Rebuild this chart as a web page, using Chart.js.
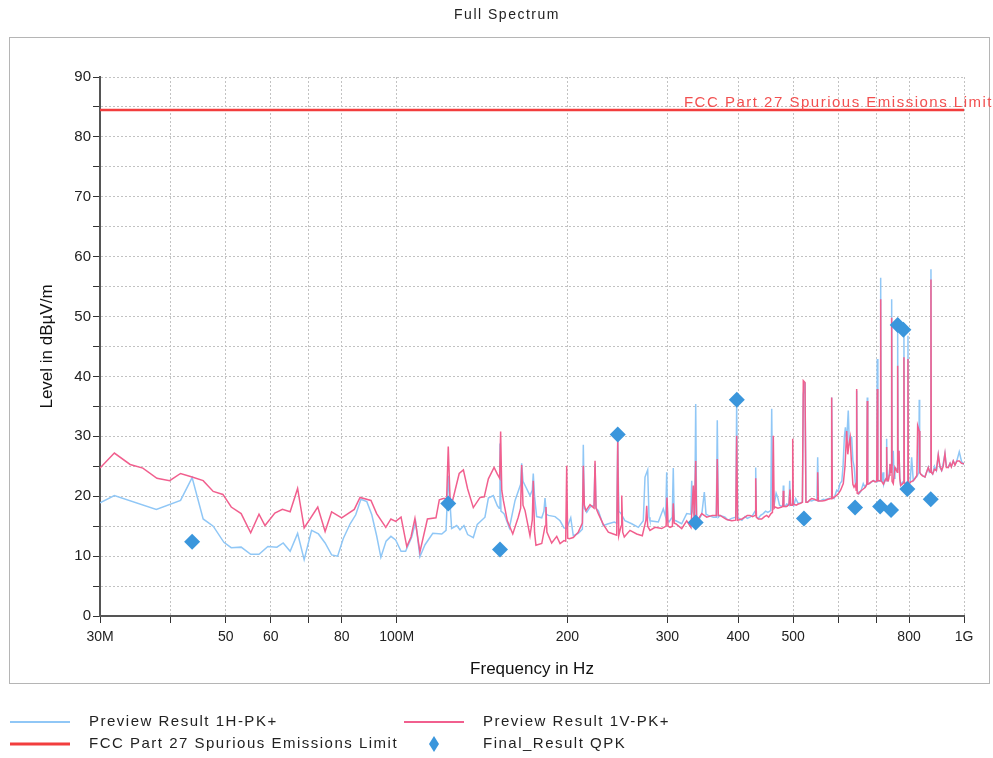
<!DOCTYPE html>
<html>
<head>
<meta charset="utf-8">
<title>Full Spectrum</title>
<script src="https://cdn.jsdelivr.net/npm/chart.js@4.4.0/dist/chart.umd.min.js"></script>
<style>
  html, body { margin: 0; padding: 0; background: #fff; }
  #wrap { position: relative; width: 993px; height: 758px; }
</style>
</head>
<body>
<div id="wrap"><canvas id="chart" width="993" height="758"></canvas></div>
<script>
/* ================= DATA (frequency in MHz, level in dBuV/m) ================= */
const freqTicks = [30, 40, 50, 60, 70, 80, 100, 200, 300, 400, 500, 600, 700, 800, 1000];
const freqLabels = ["30M", "", "50", "60", "", "80", "100M", "200", "300", "400", "500", "", "", "800", "1G"];

const h1Freq = [
  30.0, 31.8, 37.7, 41.6, 43.6, 45.6, 47.5, 49.6, 51.1, 53.2,
  55.3, 57.2, 59.3, 61.5, 63.1, 64.9, 66.9, 68.7, 70.8, 72.8,
  74.8, 76.8, 78.7, 80.5, 82.8, 84.7, 86.5, 88.6, 90.4, 92.2,
  93.8, 95.8, 97.7, 99.6, 101.8, 103.7, 106.3, 108.0, 109.9, 112.2,
  115.8, 120.1, 122.2, 123.3, 125.0, 127.6, 129.3, 131.4, 133.4, 136.5,
  138.7, 143.1, 145.1, 148.0, 150.5, 151.6, 152.1, 152.7, 154.6, 158.0,
  161.7, 165.4, 166.1, 167.0, 169.0, 171.8, 173.4, 174.1, 175.0, 176.5,
  180.2, 181.8, 182.6, 183.6, 185.1, 190.2, 194.1, 197.2, 199.4, 202.7,
  204.8, 209.0, 212.5, 213.3, 214.2, 216.3, 219.2, 222.8, 223.7, 224.6,
  226.7, 231.3, 236.1, 241.9, 244.3, 245.3, 246.3, 248.6, 252.6, 259.6,
  266.7, 272.1, 274.0, 277.0, 278.5, 279.6, 289.2, 295.1, 298.0, 299.2,
  300.4, 302.0, 306.0, 307.3, 308.5, 310.4, 318.0, 324.5, 330.0, 331.2,
  332.4, 335.3, 336.6, 337.9, 340.2, 345.0, 348.6, 351.0, 354.3, 361.5,
  366.0, 367.4, 368.9, 371.5, 379.1, 384.0, 389.5, 396.0, 397.5, 399.0,
  401.3, 406.0, 411.1, 415.0, 419.6, 424.0, 428.2, 429.4, 430.6, 433.9,
  438.0, 442.8, 447.0, 451.0, 456.4, 458.2, 460.0, 463.1, 466.5, 469.5,
  473.0, 477.0, 479.5, 480.3, 481.3, 484.0, 487.0, 491.5, 492.9, 494.3,
  498.2, 501.0, 505.1, 510.0, 515.0, 519.0, 520.9, 524.5, 526.5, 530.0,
  535.0, 539.0, 545.0, 550.5, 552.2, 554.0, 560.0, 565.0, 568.8, 576.0,
  583.0, 584.5, 586.0, 590.0, 596.5, 600.0, 604.5, 609.0, 612.0, 615.5,
  618.0, 621.0, 625.2, 628.0, 631.0, 633.9, 637.0, 640.6, 643.5, 645.5,
  646.9, 648.3, 652.9, 658.0, 664.4, 669.0, 674.0, 675.3, 676.6, 680.8,
  686.0, 692.0, 697.0, 701.5, 703.3, 705.0, 708.2, 711.8, 713.1, 714.4,
  716.8, 720.0, 722.0, 725.6, 729.5, 730.6, 731.8, 735.4, 740.5, 744.5,
  745.6, 746.8, 750.5, 753.0, 755.6, 762.8, 764.0, 765.2, 768.0, 770.5,
  773.3, 778.0, 782.5, 783.7, 785.0, 789.2, 795.4, 796.6, 797.8, 800.8,
  804.0, 808.6, 813.9, 820.0, 826.0, 832.5, 833.9, 835.3, 838.7, 845.0,
  853.5, 859.0, 865.0, 869.0, 873.3, 874.5, 875.7, 880.6, 887.0, 894.0,
  900.8, 907.0, 913.3, 919.0, 925.6, 931.0, 938.1, 945.0, 950.0, 957.3,
  964.0, 972.0, 981.0, 990.0, 997.0, 1000
];
const h1Level = [
  18.9, 20.1, 17.8, 19.3, 23.1, 16.2, 15.0, 12.3, 11.4, 11.5,
  10.3, 10.3, 11.6, 11.5, 12.2, 10.8, 13.8, 9.4, 14.3, 13.7,
  12.2, 10.2, 10.0, 12.9, 15.4, 16.9, 19.5, 19.1, 16.9, 13.4,
  9.8, 12.5, 13.3, 12.7, 10.8, 10.8, 13.2, 15.7, 9.9, 11.9,
  13.8, 13.7, 14.3, 23.4, 14.6, 15.1, 14.4, 15.1, 13.6, 13.1,
  15.3, 16.5, 19.7, 20.1, 18.4, 18.0, 28.8, 17.5, 17.1, 14.7,
  19.3, 22.0, 25.5, 22.5, 21.5, 20.1, 21.0, 23.8, 20.0, 16.6,
  16.4, 17.5, 19.7, 17.0, 16.8, 16.6, 15.9, 14.7, 14.6, 16.4,
  13.4, 13.8, 14.5, 28.6, 18.0, 17.3, 18.2, 18.5, 25.4, 18.0,
  17.6, 15.1, 15.4, 15.7, 15.5, 30.0, 17.5, 17.1, 15.9, 15.4,
  14.8, 15.9, 23.2, 24.4, 16.5, 15.9, 15.7, 17.9, 16.5, 24.0,
  16.0, 15.7, 16.5, 24.7, 16.0, 15.9, 15.4, 17.1, 17.0, 22.6,
  17.5, 16.5, 35.4, 16.0, 15.9, 17.0, 20.7, 17.0, 16.8, 16.5,
  16.5, 32.7, 16.5, 16.8, 16.5, 16.0, 16.3, 16.5, 35.9, 16.5,
  16.3, 16.0, 16.6, 16.3, 16.5, 16.8, 17.5, 24.8, 16.5, 16.3,
  16.8, 17.1, 17.5, 17.3, 17.6, 34.6, 18.0, 18.7, 20.5, 19.8,
  18.5, 18.3, 18.5, 21.8, 18.5, 18.3, 18.7, 18.5, 22.6, 18.5,
  18.7, 18.4, 19.6, 18.8, 18.9, 19.0, 37.0, 39.0, 19.2, 19.0,
  19.3, 19.2, 19.4, 19.3, 26.5, 19.2, 19.3, 19.5, 19.4, 19.6,
  19.7, 36.5, 19.8, 19.6, 21.0, 20.8, 22.1, 22.5, 25.0, 30.0,
  31.5, 29.0, 34.3, 28.5, 30.0, 29.8, 26.0, 24.8, 22.0, 21.5,
  37.6, 21.0, 20.4, 20.8, 22.1, 21.5, 22.0, 36.5, 22.0, 22.1,
  22.3, 22.6, 22.5, 22.4, 42.9, 22.5, 22.6, 22.5, 56.5, 22.5,
  22.6, 24.0, 22.0, 22.6, 23.0, 29.6, 22.6, 22.6, 25.0, 24.5,
  52.9, 25.0, 27.6, 23.0, 24.8, 24.5, 47.6, 25.0, 27.6, 23.0,
  21.8, 22.3, 22.5, 46.8, 22.3, 22.1, 22.5, 46.8, 22.3, 22.1,
  22.5, 26.5, 22.6, 23.0, 23.3, 24.0, 36.1, 24.0, 23.7, 23.5,
  23.2, 24.0, 24.8, 24.0, 24.2, 57.9, 24.0, 23.7, 25.0, 24.3,
  26.9, 24.8, 24.3, 25.5, 27.1, 25.0, 24.8, 25.5, 25.0, 25.9,
  25.3, 26.0, 27.4, 25.8, 25.4, 25.6
];

const v1Freq = [
  30.0, 31.8, 33.9, 35.7, 37.8, 39.8, 41.6, 43.6, 45.6, 47.5,
  49.4, 51.1, 53.2, 55.3, 57.2, 58.6, 61.0, 62.9, 64.9, 66.9,
  68.7, 72.6, 74.8, 76.8, 80.0, 84.2, 86.2, 90.1, 92.2, 95.7,
  97.7, 99.6, 101.8, 104.2, 106.0, 107.7, 109.9, 113.3, 117.3, 118.9,
  120.8, 122.5, 123.3, 124.2, 125.5, 128.9, 131.1, 133.4, 136.5, 140.3,
  142.7, 145.1, 148.5, 150.5, 151.9, 152.5, 153.2, 154.2, 156.7, 160.2,
  163.8, 165.4, 166.1, 167.0, 168.4, 171.8, 173.4, 174.1, 175.0, 176.0,
  180.2, 182.6, 183.3, 184.0, 187.6, 191.5, 194.1, 197.2, 198.6, 199.4,
  200.2, 201.5, 204.8, 209.0, 212.5, 213.3, 214.2, 215.6, 219.2, 222.8,
  223.7, 224.6, 226.7, 231.3, 236.1, 240.9, 244.3, 245.3, 246.3, 248.6,
  249.3, 250.3, 251.9, 257.8, 264.9, 271.0, 275.0, 275.9, 277.0, 279.6,
  285.4, 293.2, 298.5, 299.6, 300.8, 303.3, 306.2, 307.3, 308.5, 310.4,
  318.0, 324.5, 330.2, 333.3, 334.6, 335.3, 336.6, 337.9, 344.9, 352.0,
  360.0, 366.0, 367.4, 368.9, 371.5, 381.7, 389.5, 396.0, 397.5, 399.0,
  406.0, 411.1, 415.0, 419.6, 424.0, 428.2, 429.4, 430.6, 434.0, 440.0,
  445.0, 449.0, 452.5, 456.9, 459.6, 461.2, 462.8, 464.4, 470.0, 477.2,
  479.3, 480.3, 481.3, 487.0, 491.5, 493.5, 495.0, 498.0, 499.0, 500.2,
  506.0, 510.4, 515.0, 519.0, 520.9, 524.5, 526.5, 530.0, 535.0, 539.0,
  545.0, 550.8, 552.2, 553.6, 562.0, 568.8, 576.0, 583.0, 584.5, 586.0,
  594.0, 600.4, 606.0, 612.7, 617.0, 621.2, 624.0, 627.0, 630.0, 633.0,
  637.0, 640.0, 644.0, 645.6, 646.9, 648.2, 651.1, 656.0, 664.4, 670.0,
  674.0, 675.3, 676.6, 680.8, 686.0, 692.0, 697.0, 701.8, 703.3, 704.8,
  708.2, 711.8, 713.1, 714.4, 716.8, 721.0, 725.6, 729.5, 730.6, 731.8,
  735.4, 738.5, 740.5, 744.5, 745.6, 746.8, 750.5, 755.6, 762.8, 764.0,
  765.2, 768.0, 770.5, 773.3, 778.0, 782.5, 783.7, 785.0, 789.2, 795.4,
  796.6, 797.8, 800.8, 806.0, 813.9, 820.0, 826.0, 828.5, 833.9, 836.0,
  838.7, 845.0, 853.5, 859.0, 865.0, 869.0, 873.3, 874.5, 875.7, 880.6,
  887.0, 894.0, 900.8, 907.0, 913.3, 919.0, 925.6, 931.0, 938.1, 945.0,
  950.0, 957.3, 964.0, 972.0, 981.0, 990.0, 1000
];
const v1Level = [
  24.7, 27.2, 25.3, 24.7, 23.0, 22.6, 23.8, 23.2, 22.6, 20.8,
  20.3, 18.2, 17.1, 13.9, 17.0, 15.1, 17.2, 17.8, 17.4, 21.3,
  14.7, 18.2, 14.1, 17.4, 16.4, 17.8, 19.8, 19.3, 17.1, 14.8,
  16.2, 15.8, 16.5, 11.6, 13.2, 16.3, 10.7, 16.2, 16.4, 19.4,
  19.6, 19.6, 28.3, 19.5, 19.3, 23.8, 24.4, 21.2, 18.1, 19.8,
  19.9, 22.9, 24.8, 23.7, 23.0, 30.8, 21.0, 19.3, 15.9, 13.7,
  16.5, 18.0, 25.2, 18.5, 17.6, 13.4, 16.0, 22.6, 14.0, 11.8,
  12.1, 15.0, 18.2, 14.0, 12.2, 13.3, 12.1, 12.6, 12.5, 25.1,
  13.0, 12.9, 13.1, 14.0, 15.5, 25.1, 18.5, 17.6, 18.6, 18.0,
  25.9, 18.0, 17.1, 15.3, 14.0, 13.7, 13.5, 29.3, 13.4, 15.0,
  20.1, 14.0, 13.2, 14.3, 13.7, 13.4, 16.0, 18.4, 15.0, 14.3,
  14.8, 14.6, 15.0, 19.8, 15.0, 14.8, 15.0, 18.8, 15.5, 15.4,
  14.6, 15.9, 14.8, 21.8, 16.0, 16.0, 25.9, 15.7, 17.1, 16.5,
  16.8, 16.8, 26.2, 16.8, 16.8, 16.1, 15.9, 16.0, 30.1, 16.0,
  16.2, 16.5, 16.8, 16.8, 16.6, 16.8, 23.0, 16.5, 16.2, 16.2,
  16.6, 16.8, 16.5, 17.1, 17.3, 30.1, 18.0, 18.2, 18.0, 18.2,
  18.3, 20.9, 18.3, 18.3, 18.6, 21.1, 18.5, 18.5, 29.6, 18.7,
  18.5, 18.7, 18.8, 19.0, 39.3, 39.0, 19.0, 19.0, 19.4, 19.6,
  19.5, 19.3, 24.0, 19.2, 19.2, 19.3, 19.5, 19.6, 36.5, 19.6,
  20.0, 20.4, 21.0, 22.1, 25.0, 30.9, 27.0, 28.7, 29.8, 26.0,
  22.0, 21.5, 22.0, 21.0, 37.9, 20.5, 20.4, 20.8, 21.2, 21.5,
  22.0, 35.9, 22.0, 22.1, 22.4, 22.6, 22.4, 22.5, 37.9, 22.6,
  22.6, 22.6, 52.9, 22.6, 22.6, 22.0, 22.6, 23.0, 28.2, 22.6,
  22.6, 23.5, 25.4, 24.0, 49.8, 22.5, 22.1, 24.8, 24.0, 41.8,
  25.5, 27.6, 23.0, 21.8, 22.0, 22.3, 43.2, 22.2, 22.1, 22.3,
  42.9, 22.2, 22.1, 22.4, 22.6, 23.0, 23.5, 31.8, 30.9, 24.0,
  23.7, 23.4, 23.2, 24.0, 24.8, 24.2, 24.0, 56.2, 24.0, 23.7,
  24.5, 24.3, 26.9, 25.0, 24.3, 25.0, 27.1, 24.8, 24.8, 25.5,
  24.9, 25.9, 25.2, 25.9, 25.9, 25.5, 25.4
];

const limitFreq = [30, 1000];
const limitLevel = [84.5, 84.5];

const qpkFreq = [43.6, 123.3, 152.1, 245.3, 336.6, 397.7, 522.3, 642.7, 711.4, 743.8, 764.0, 781.9, 794.6, 873.7];
const qpkLevel = [12.4, 18.8, 11.1, 30.3, 15.6, 36.1, 16.3, 18.1, 18.3, 17.7, 48.6, 47.8, 21.2, 19.5];

/* ================= COLORS ================= */
const H_COLOR = "#90c7f6";
const V_COLOR = "#f15f8e";
const LIMIT_COLOR = "#f23d3d";
const QPK_COLOR = "#3a96dc";
const FONT = "'Liberation Sans', Arial, sans-serif";

const toPoints = (xs, ys) => xs.map((x, i) => ({ x: x, y: ys[i] }));

/* ================= DECORATION (frame, title, legend) ================= */
const decorations = {
  id: "decorations",
  beforeDraw(chart) {
    const ctx = chart.ctx;
    ctx.save();
    ctx.fillStyle = "#fff";
    ctx.fillRect(0, 0, chart.width, chart.height);
    ctx.strokeStyle = "#b5b5b5";
    ctx.lineWidth = 1;
    ctx.strokeRect(9.5, 37.5, 980, 646);
    ctx.restore();
  },
  afterDraw(chart) {
    const ctx = chart.ctx;
    ctx.save();
    ctx.letterSpacing = "1.5px";
    ctx.textBaseline = "middle";

    // title
    ctx.fillStyle = "#222";
    ctx.font = "14px " + FONT;
    ctx.textAlign = "center";
    ctx.fillText("Full Spectrum", 507, 15);

    // limit label
    const ly = chart.scales.y.getPixelForValue(limitLevel[0]);
    ctx.fillStyle = "#f25050";
    ctx.font = "15px " + FONT;
    ctx.textAlign = "right";
    ctx.textBaseline = "alphabetic";
    ctx.fillText("FCC Part 27 Spurious Emissions Limit", 993, ly - 3);

    // legend
    ctx.textBaseline = "middle";
    ctx.textAlign = "left";
    const items = [
      { x: 10, y: 722, kind: "line", color: H_COLOR, w: 2, text: "Preview Result 1H-PK+" },
      { x: 404, y: 722, kind: "line", color: V_COLOR, w: 2, text: "Preview Result 1V-PK+" },
      { x: 10, y: 744, kind: "line", color: LIMIT_COLOR, w: 3, text: "FCC Part 27 Spurious Emissions Limit" },
      { x: 404, y: 744, kind: "diamond", color: QPK_COLOR, text: "Final_Result QPK" }
    ];
    items.forEach(it => {
      if (it.kind === "line") {
        ctx.strokeStyle = it.color;
        ctx.lineWidth = it.w;
        ctx.beginPath();
        ctx.moveTo(it.x, it.y);
        ctx.lineTo(it.x + 60, it.y);
        ctx.stroke();
      } else {
        const cx = it.x + 30;
        ctx.fillStyle = it.color;
        ctx.beginPath();
        ctx.moveTo(cx, it.y - 8);
        ctx.lineTo(cx + 5, it.y);
        ctx.lineTo(cx, it.y + 8);
        ctx.lineTo(cx - 5, it.y);
        ctx.closePath();
        ctx.fill();
      }
      ctx.fillStyle = "#222";
      ctx.font = "15px " + FONT;
      ctx.fillText(it.text, it.x + 79, it.y);
    });
    ctx.restore();
  }
};

/* ================= CHART ================= */
const canvas = document.getElementById("chart");

new Chart(canvas, {
  type: "line",
  data: {
    datasets: [
      {
        label: "Final_Result QPK",
        data: toPoints(qpkFreq, qpkLevel),
        showLine: false,
        pointStyle: "rectRot",
        pointRadius: 8,
        pointBackgroundColor: QPK_COLOR,
        pointBorderWidth: 0,
        order: 0
      },
      {
        label: "FCC Part 27 Spurious Emissions Limit",
        data: toPoints(limitFreq, limitLevel),
        borderColor: LIMIT_COLOR,
        borderWidth: 2.5,
        pointRadius: 0,
        order: 1
      },
      {
        label: "Preview Result 1V-PK+",
        data: toPoints(v1Freq, v1Level),
        borderColor: V_COLOR,
        borderWidth: 1.5,
        pointRadius: 0,
        tension: 0,
        order: 2
      },
      {
        label: "Preview Result 1H-PK+",
        data: toPoints(h1Freq, h1Level),
        borderColor: H_COLOR,
        borderWidth: 1.5,
        pointRadius: 0,
        tension: 0,
        order: 3
      }
    ]
  },
  options: {
    responsive: false,
    animation: false,
    events: [],
    layout: { padding: { left: 0, right: 29, top: 77, bottom: 0 } },
    plugins: {
      legend: { display: false },
      tooltip: { enabled: false },
      title: { display: false }
    },
    scales: {
      x: {
        type: "logarithmic",
        min: 30,
        max: 1000,
        afterBuildTicks: scale => {
          scale.ticks = freqTicks.map(v => ({ value: v }));
        },
        afterFit: scale => { scale.height = 142; },
        ticks: {
          autoSkip: false,
          maxRotation: 0,
          padding: 6,
          color: "#222",
          font: { family: FONT, size: 14 },
          callback: value => freqLabels[freqTicks.indexOf(value)]
        },
        grid: {
          color: "#c2c2c2",
          lineWidth: 1,
          tickLength: 7,
          tickColor: "#333",
          tickWidth: 1
        },
        border: { display: true, color: "#555", width: 2, dash: [2, 2] },
        title: {
          display: true,
          text: "Frequency in Hz",
          color: "#111",
          font: { family: FONT, size: 17 },
          padding: { top: 0, bottom: 78 }
        }
      },
      y: {
        type: "linear",
        min: 0,
        max: 90,
        afterFit: scale => { scale.width = 100; },
        ticks: {
          stepSize: 5,
          padding: 2,
          color: "#222",
          font: { family: FONT, size: 15 },
          callback: value => (value % 10 === 0 ? value : "")
        },
        grid: {
          color: "#c2c2c2",
          lineWidth: 1,
          tickLength: 7,
          tickColor: "#333",
          tickWidth: 1
        },
        border: { display: true, color: "#555", width: 2, dash: [2, 2] },
        title: {
          display: true,
          text: "Level in dBµV/m",
          color: "#111",
          font: { family: FONT, size: 17 },
          padding: { top: 37, bottom: 0 }
        }
      }
    }
  },
  plugins: [decorations]
});
</script>
</body>
</html>
